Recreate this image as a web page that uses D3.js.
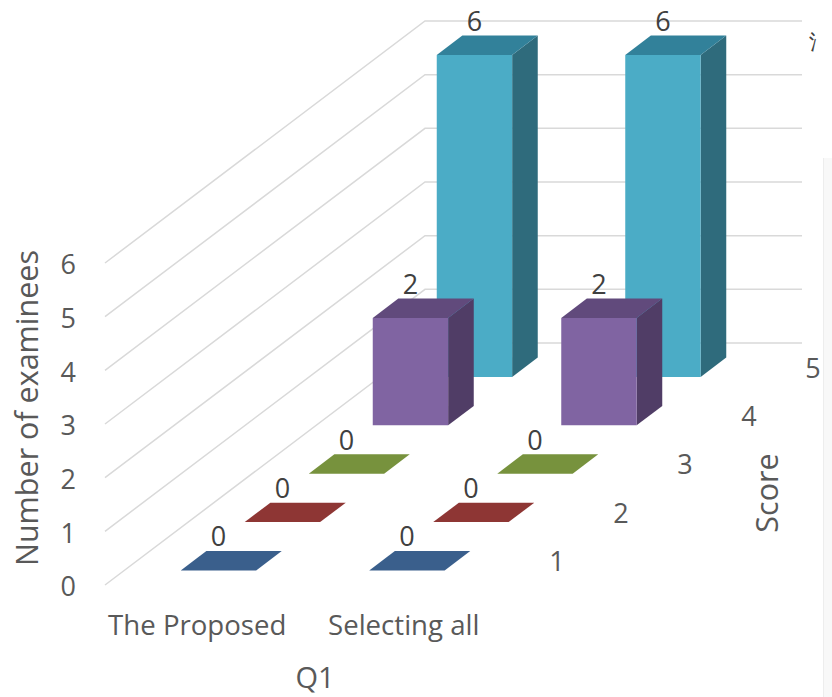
<!DOCTYPE html>
<html>
<head>
<meta charset="utf-8">
<script src="https://cdn.jsdelivr.net/npm/d3@7"></script>
<style>
  html, body { margin: 0; padding: 0; background: #ffffff; }
  svg { display: block; }
  text { font-family: "Open Sans", "Noto Sans", sans-serif; }
</style>
</head>
<body>
<svg id="chart" width="832" height="697"></svg>
<script>
// ---------- data ----------
const categories = ["The Proposed", "Selecting all"];
const scores = ["1", "2", "3", "4", "5"];
const score1 = [0, 0];
const score2 = [0, 0];
const score3 = [0, 0];
const score4 = [2, 2];
const score5 = [6, 6];
const seriesValues = [score1, score2, score3, score4, score5];
const yTicks = [0, 1, 2, 3, 4, 5, 6];
const yTitle = "Number of examinees";
const zTitle = "Score";
const xTitle = "Q1";

// ---------- style ----------
const faceColors = {
  "1": { front: "#4F81BD", top: "#3A5F8C", side: "#2F4D72" },
  "2": { front: "#C0504D", top: "#8E3634", side: "#74302E" },
  "3": { front: "#9BBB59", top: "#77923D", side: "#5F7631" },
  "4": { front: "#8064A2", top: "#614A7C", side: "#503D66" },
  "5": { front: "#4BACC6", top: "#32819A", side: "#2F6B7C" }
};
const textGray = "#595959";
const labelGray = "#404040";
const gridColor = "#d9d9d9";

// ---------- geometry ----------
const floorLeft = 105, floorRight = 482, floorY = 585, topY = 263;
const DX = 64, DY = 48.4; // projection offset per depth unit

const svg = d3.select("#chart");

const x = d3.scaleBand().domain(categories).range([floorLeft, floorRight])
  .paddingInner(0.6).paddingOuter(0.3);
const z = d3.scaleBand().domain(scores).range([0, scores.length])
  .paddingInner(0.6).paddingOuter(0.3);
const y = d3.scaleLinear().domain([0, 6]).range([floorY, topY]);

const P = (px, py, d) => [px + d * DX, py - d * DY];
const depthTotal = scores.length;

// right edge faint panel (screenshot artefact)
svg.append("rect").attr("x", 823).attr("y", 158).attr("width", 9).attr("height", 539)
  .attr("fill", "#f8f8f8");
svg.append("line").attr("x1", 823.5).attr("x2", 823.5).attr("y1", 158).attr("y2", 697)
  .attr("stroke", "#ededed").attr("stroke-width", 1);

// gridlines: left wall + back wall
const grid = svg.append("g");
yTicks.forEach(t => {
  const a = P(floorLeft, y(t), 0);
  const b = P(floorLeft, y(t), depthTotal);
  const c = P(floorRight, y(t), depthTotal);
  grid.append("path")
    .attr("d", d3.line()([a, b, c]))
    .attr("fill", "none").attr("stroke", gridColor).attr("stroke-width", 1.5);
});

// y tick labels
svg.append("g").selectAll("text").data(yTicks).join("text")
  .attr("x", 76).attr("y", d => y(d) + 2)
  .attr("dy", "0.35em")
  .attr("text-anchor", "end")
  .attr("font-size", 27).attr("fill", textGray)
  .text(d => d);

// bars: draw back rows first
const bars = svg.append("g");
const line = d3.line();
for (let si = scores.length - 1; si >= 0; si--) {
  const s = scores[si];
  const col = faceColors[s];
  categories.forEach((cat, ci) => {
    const v = seriesValues[si][ci];
    const x0 = x(cat), x1 = x0 + x.bandwidth();
    const d0 = z(s), d1 = d0 + z.bandwidth();
    const yt = y(v), yb = y(0);
    const g = bars.append("g");
    if (v > 0) {
      g.append("path").attr("d", line([P(x1, yt, d0), P(x1, yt, d1), P(x1, yb, d1), P(x1, yb, d0)]) + "Z")
        .attr("fill", col.side);
      g.append("path").attr("d", line([P(x0, yt, d0), P(x1, yt, d0), P(x1, yb, d0), P(x0, yb, d0)]) + "Z")
        .attr("fill", col.front);
    }
    g.append("path").attr("d", line([P(x0, yt, d0), P(x1, yt, d0), P(x1, yt, d1), P(x0, yt, d1)]) + "Z")
      .attr("fill", col.top);
    const lp = P((x0 + x1) / 2, yt, d0);
    g.append("text")
      .attr("x", lp[0]).attr("y", lp[1] - 24)
      .attr("text-anchor", "middle")
      .attr("font-size", 27).attr("fill", labelGray)
      .text(v);
  });
}

// score (depth) labels
svg.append("g").selectAll("text").data(scores).join("text")
  .attr("x", d => P(floorRight, floorY, z(d) + z.bandwidth() / 2)[0] + 43)
  .attr("y", d => P(floorRight, floorY, z(d) + z.bandwidth() / 2)[1] + 1)
  .attr("dy", "0.35em")
  .attr("text-anchor", "middle")
  .attr("font-size", 27).attr("fill", textGray)
  .text(d => d);

// category labels
const catNudge = [-2, 16];
svg.append("g").selectAll("text").data(categories).join("text")
  .attr("x", (d, i) => x(d) + x.bandwidth() / 2 + catNudge[i])
  .attr("y", 635)
  .attr("text-anchor", "middle")
  .attr("font-size", 27.6).attr("fill", textGray)
  .text(d => d);

// axis titles
svg.append("text").attr("x", 315).attr("y", 688)
  .attr("text-anchor", "middle").attr("font-size", 29).attr("fill", textGray)
  .text(xTitle);
svg.append("text").attr("transform", "translate(38,408) rotate(-90)")
  .attr("text-anchor", "middle").attr("font-size", 30.5).attr("fill", textGray)
  .text(yTitle);
svg.append("text").attr("transform", "translate(778,493) rotate(-90)")
  .attr("text-anchor", "middle").attr("font-size", 30.5).attr("fill", textGray)
  .text(zTitle);

// small glyph at top right edge (cut off in the source image)
svg.append("text").attr("x", 829).attr("y", 49)
  .attr("text-anchor", "end")
  .attr("font-family", "Noto Sans CJK SC").attr("font-size", 20).attr("fill", labelGray)
  .text("氵");
</script>
</body>
</html>
